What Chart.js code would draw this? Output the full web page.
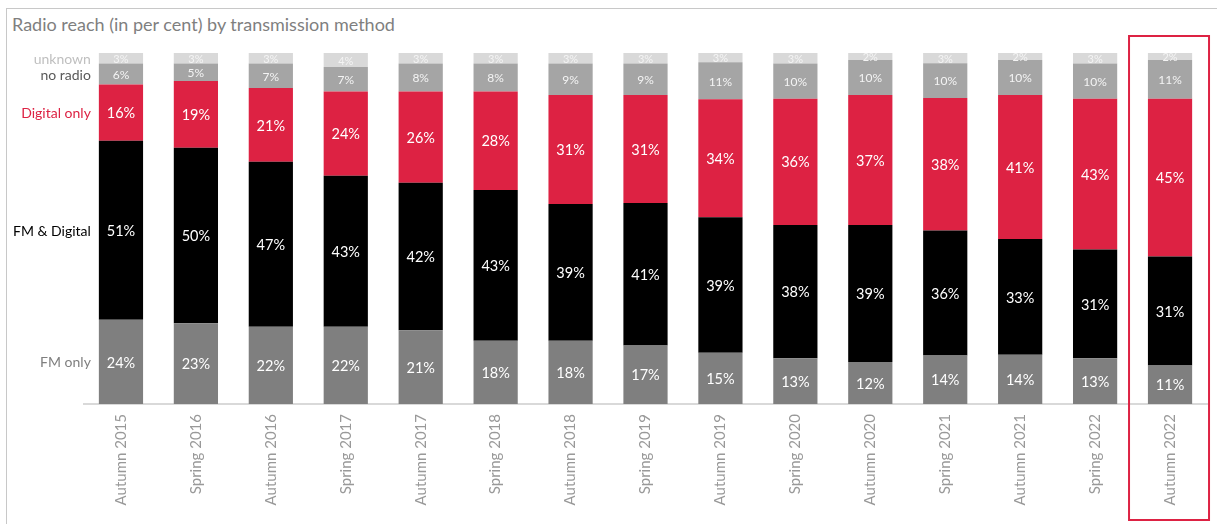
<!DOCTYPE html>
<html>
<head>
<meta charset="utf-8">
<script src="https://cdn.jsdelivr.net/npm/chart.js@4/dist/chart.umd.min.js"></script>
<style>
  html, body { margin: 0; padding: 0; background: #fff; }
  body { width: 1217px; height: 524px; position: relative; overflow: hidden; font-family: Lato, sans-serif; }
  .frame { position: absolute; left: 6px; top: 8px; width: 1300px; height: 600px; border-top: 1px solid #c8c8c8; border-left: 1px solid #c8c8c8; }
  .title { position: absolute; left: 12px; top: 13px; font-size: 18px; color: #7f7f7f; white-space: nowrap; }
  #chart { position: absolute; left: 0; top: 0; }
</style>
</head>
<body>
<div class="frame"></div>
<div class="title">Radio reach (in per cent) by transmission method</div>
<canvas id="chart" width="1217" height="524"></canvas>
<script>
// ── Data ────────────────────────────────────────────────────────────────
const periods = ['Autumn 2015', 'Spring 2016', 'Autumn 2016', 'Spring 2017', 'Autumn 2017',
                 'Spring 2018', 'Autumn 2018', 'Spring 2019', 'Autumn 2019', 'Spring 2020',
                 'Autumn 2020', 'Spring 2021', 'Autumn 2021', 'Spring 2022', 'Autumn 2022'];
const fmOnly      = [24, 23, 22, 22, 21, 18, 18, 16.7, 14.6, 13, 12, 13.8, 14, 13, 11];
const fmDigital   = [51, 50, 47, 43, 42, 43, 39, 40.6, 38.6, 38, 39, 35.6, 33, 31, 31];
const digitalOnly = [16, 19, 21, 24, 26, 28, 31, 30.7, 33.6, 36, 37, 37.8, 41, 43, 45];
const noRadio     = [6, 5, 7, 7, 8, 8, 9, 9.0, 10.6, 10, 10, 9.9, 10, 10, 11];
const unknown     = [3, 3, 3, 4, 3, 3, 3, 3.0, 2.6, 3, 2, 2.9, 2, 3, 2];

const font = 'Lato, sans-serif';

// series name, label colour, value label size
const series = [
  { label: 'FM only',      data: fmOnly,      color: '#7f7f7f', text: '#7f7f7f', size: 14.5 },
  { label: 'FM & Digital', data: fmDigital,   color: '#000000', text: '#000000', size: 14.5 },
  { label: 'Digital only', data: digitalOnly, color: '#dd2243', text: '#dd2243', size: 14.5 },
  { label: 'no radio',     data: noRadio,     color: '#a5a5a5', text: '#595959', size: 12 },
  { label: 'unknown',      data: unknown,     color: '#d9d9d9', text: '#bfbfbf', size: 11 },
];

// ── Plugins ─────────────────────────────────────────────────────────────
const segmentLabels = {
  id: 'segmentLabels',
  afterDatasetsDraw(chart) {
    const ctx = chart.ctx;
    ctx.save();
    ctx.textAlign = 'center';
    ctx.textBaseline = 'middle';
    chart.data.datasets.forEach((ds, i) => {
      const meta = chart.getDatasetMeta(i);
      ctx.font = `${series[i].size}px ${font}`;
      ctx.fillStyle = i >= 3 ? '#f4f4f4' : '#ffffff';
      meta.data.forEach((el, j) => {
        const y = (el.y + el.base) / 2;
        ctx.fillText(Math.round(ds.data[j]) + '%', el.x, y + 1);
      });
      // series name left of the first bar
      const first = meta.data[0];
      ctx.save();
      ctx.textAlign = 'right';
      ctx.font = `14px ${font}`;
      ctx.fillStyle = series[i].text;
      ctx.fillText(ds.label, first.x - first.width / 2 - 8, (first.y + first.base) / 2 + 1);
      ctx.restore();
    });
    ctx.restore();
  }
};

const highlightBox = {
  id: 'highlightBox',
  afterDraw(chart) {
    const x = chart.scales.x;
    const cx = x.getPixelForValue(periods.length - 1);
    const ctx = chart.ctx;
    ctx.save();
    ctx.strokeStyle = '#dd2243';
    ctx.lineWidth = 2;
    ctx.strokeRect(cx - 41, 36, 80, 484);
    ctx.restore();
  }
};

new Chart(document.getElementById('chart'), {
  type: 'bar',
  data: {
    labels: periods,
    datasets: series.map(s => ({
      label: s.label,
      data: s.data,
      backgroundColor: s.color,
      borderWidth: 0,
      barPercentage: 0.59,
      categoryPercentage: 1.0
    }))
  },
  options: {
    responsive: false,
    animation: false,
    layout: { padding: { top: 53, left: 83.5, right: 9.5, bottom: 0 } },
    plugins: {
      legend: { display: false },
      title: { display: false },
      tooltip: { enabled: false }
    },
    scales: {
      x: {
        stacked: true,
        grid: { display: false, drawTicks: false },
        border: { display: true, color: '#d9d9d9', width: 2 },
        ticks: { color: '#999999', font: { family: font, size: 15 }, minRotation: 90, maxRotation: 90, padding: 10 },
        afterFit: s => { s.height = 120; }
      },
      y: {
        stacked: true,
        display: false,
        min: 0,
        max: 100
      }
    }
  },
  plugins: [segmentLabels, highlightBox]
});
</script>
</body>
</html>
